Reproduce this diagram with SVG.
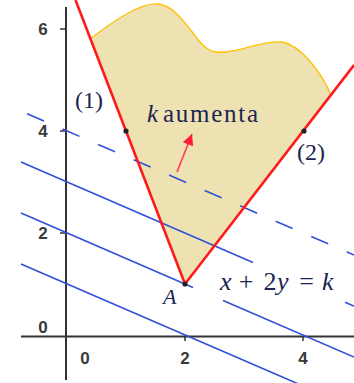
<svg xmlns="http://www.w3.org/2000/svg" width="354" height="383" viewBox="0 0 354 383">
<defs>
<style>
.axis{stroke:#333;stroke-width:2;fill:none}
.tick{stroke:#333;stroke-width:1.5}
.num{font-family:"Liberation Sans",Arial,sans-serif;font-size:17px;font-weight:bold;fill:#3a3a3a;text-anchor:middle}
.blue{stroke:#3050d8;stroke-width:1.6;fill:none}
.dash{stroke-dasharray:18.5 20.2}
.red{stroke:#ff1a1a;stroke-width:2.6;fill:none}
.lbl{font-family:"Liberation Serif","Times New Roman",serif;fill:#1b2550}
.it{font-style:italic}
.dot{fill:#222}
</style>
<marker id="ah" viewBox="0 0 10 10" refX="10" refY="5" markerWidth="13" markerHeight="11" markerUnits="userSpaceOnUse" orient="auto">
<path d="M0,0 L10,5 L0,10 Z" fill="#ff1a3a"/>
</marker>
</defs>
<rect width="354" height="383" fill="#fff"/>
<g id="region">
<path d="M90,39 C115,20 140,3 157,4 C175,5 186,25 200,42 C209,52 215,53 225,52 C245,50 265,40 282,42 C300,45 320,70 331,95 L185,284 Z" fill="#eee2b2"/>
<path d="M90,39 C115,20 140,3 157,4 C175,5 186,25 200,42 C209,52 215,53 225,52 C245,50 265,40 282,42 C300,45 320,70 331,95" fill="none" stroke="#ffc000" stroke-width="1.3"/>
</g>
<g id="axes">
<line class="axis" x1="66" y1="7" x2="66" y2="380"/>
<line class="axis" x1="21" y1="336.5" x2="354" y2="336.5"/>
<line class="tick" x1="60" y1="29" x2="66" y2="29"/>
<line class="tick" x1="60" y1="131" x2="66" y2="131"/>
<line class="tick" x1="60" y1="233" x2="66" y2="233"/>
<line class="tick" x1="185" y1="336" x2="185" y2="341"/>
<line class="tick" x1="303" y1="336" x2="303" y2="341"/>
<text class="num" x="43" y="35">6</text>
<text class="num" x="43" y="137">4</text>
<text class="num" x="43" y="239">2</text>
<text class="num" x="43" y="333">0</text>
<text class="num" x="85" y="364">0</text>
<text class="num" x="185" y="364">2</text>
<text class="num" x="303" y="364">4</text>
</g>
<g id="connectors">
<line class="blue dash" x1="27" y1="113.7" x2="354" y2="255"/>
<path class="blue" d="M21,162.1 L253,262.4 M345,302.2 L354,306"/>
<path class="blue" d="M21,213.1 L193,287.5 M223,300.4 L354,357"/>
<line class="blue" x1="21" y1="264.1" x2="354" y2="408"/>
<line class="red" x1="75.5" y1="0" x2="185" y2="284"/>
<line class="red" x1="185" y1="284" x2="354" y2="65"/>
<line x1="177" y1="172" x2="192" y2="134" stroke="#ff3a50" stroke-width="1.6" marker-end="url(#ah)"/>
</g>
<g id="points">
<circle class="dot" cx="126" cy="131" r="2.6"/>
<circle class="dot" cx="304" cy="131" r="2.6"/>
<circle class="dot" cx="185" cy="284" r="2.6"/>
</g>
<g id="labels">
<text class="lbl" x="89" y="108" font-size="24" text-anchor="middle">(1)</text>
<text class="lbl" x="311" y="160" font-size="24" text-anchor="middle">(2)</text>
<text class="lbl it" x="147" y="122" font-size="25">k</text>
<text class="lbl" x="163" y="122" font-size="25" textLength="95" lengthAdjust="spacing">aumenta</text>
<text class="lbl it" x="163" y="304" font-size="22">A</text>
<g id="equation" font-size="26">
<text class="lbl it" x="220" y="290">x</text>
<text class="lbl" x="246" y="290" text-anchor="middle">+</text>
<text class="lbl" x="270" y="290" text-anchor="middle">2</text>
<text class="lbl it" x="277" y="290">y</text>
<text class="lbl" x="306.5" y="290" text-anchor="middle">=</text>
<text class="lbl it" x="322" y="290">k</text>
</g>
</g>
</svg>
